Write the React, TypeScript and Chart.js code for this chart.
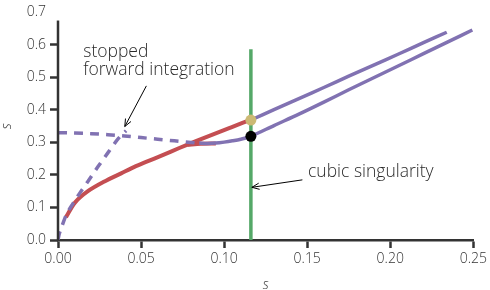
import React, { useEffect, useRef } from "react";
import { Chart, registerables } from "chart.js";
Chart.register(...registerables);

const FONT = "'Open Sans'";

// x-axis / y-axis ticks
const xTicks = [0, 0.05, 0.1, 0.15, 0.2, 0.25];
const yTicks = [0, 0.1, 0.2, 0.3, 0.4, 0.5, 0.6, 0.7];

// red solid curve (lower-left branch up to the singularity)
const redX = [0.0048, 0.0102, 0.018, 0.028, 0.038, 0.046, 0.053, 0.063, 0.073, 0.083, 0.093, 0.103, 0.113, 0.1161];
const redY = [0.07, 0.115, 0.15, 0.18, 0.205, 0.225, 0.24, 0.261, 0.283, 0.304, 0.324, 0.344, 0.364, 0.369];

// short red piece under the lower purple branch
const red2X = [0.078, 0.086, 0.095];
const red2Y = [0.293, 0.296, 0.297];

// purple dashed, nearly horizontal from s=0.33
const pd1X = [0, 0.01, 0.02, 0.03, 0.04, 0.05, 0.06, 0.07, 0.08, 0.085];
const pd1Y = [0.33, 0.329, 0.327, 0.324, 0.32, 0.315, 0.31, 0.305, 0.3, 0.298];

// purple dashed from origin (stopped forward integration)
const pd2X = [0, 0.0008, 0.0022, 0.0052, 0.009, 0.0132, 0.018, 0.024, 0.03, 0.036, 0.041];
const pd2Y = [0, 0.02, 0.04, 0.08, 0.112, 0.145, 0.18, 0.225, 0.268, 0.31, 0.336];

// purple solid lower branch (through black point)
const ps1X = [0.085, 0.09, 0.095, 0.1, 0.105, 0.11, 0.1161, 0.13, 0.145, 0.16, 0.175, 0.19, 0.205, 0.22, 0.235, 0.2494];
const ps1Y = [0.298, 0.297, 0.298, 0.301, 0.305, 0.31, 0.319, 0.352, 0.387, 0.424, 0.462, 0.499, 0.536, 0.573, 0.61, 0.646];

// purple solid upper branch (from gold point)
const ps2X = [0.1161, 0.13, 0.145, 0.16, 0.175, 0.19, 0.205, 0.22, 0.234];
const ps2Y = [0.369, 0.401, 0.435, 0.469, 0.504, 0.538, 0.572, 0.607, 0.639];

// green vertical line at the cubic singularity
const greenX = [0.1161, 0.1161];
const greenY = [0, 0.587];

// marked points
const goldX = [0.1161];
const goldY = [0.369];
const blackX = [0.1161];
const blackY = [0.319];

const ySpineTop = 0.675;

const annotStopped = { lines: ["stopped", "forward integration"], x: 0.0152, y: [0.562, 0.509] };
const arrowStopped = { from: [0.0532, 0.474], to: [0.0402, 0.349] };
const annotCubic = { lines: ["cubic singularity"], x: 0.1505, y: [0.1946] };
const arrowCubic = { from: [0.1471, 0.185], to: [0.1167, 0.162] };

const pts = (xs: number[], ys: number[]) => xs.map((x, i) => ({ x, y: ys[i] }));

const RED = "#C44E52";
const PURPLE = "#8172B2";
const GREEN = "#55A868";
const GOLD = "#CCB974";
const AXIS = "#333333";

const annotPlugin = {
  id: "annot",
  afterDatasetsDraw(chart: any) {
    const { ctx } = chart;
    const sx = chart.scales.x;
    const sy = chart.scales.y;
    ctx.save();
    // y spine
    ctx.strokeStyle = AXIS;
    ctx.lineWidth = 2.5;
    ctx.beginPath();
    const lx = chart.chartArea.left;
    ctx.moveTo(lx, sy.getPixelForValue(0) + 1.25);
    ctx.lineTo(lx, sy.getPixelForValue(ySpineTop));
    ctx.stroke();

    ctx.font = `300 17.5px ${FONT}`;
    ctx.fillStyle = "#2a2a2a";
    ctx.textAlign = "left";
    ctx.textBaseline = "alphabetic";
    for (const a of [annotStopped, annotCubic]) {
      a.lines.forEach((t, i) => {
        ctx.fillText(t, sx.getPixelForValue(a.x), sy.getPixelForValue(a.y[i]));
      });
    }
    ctx.strokeStyle = "#000";
    ctx.lineWidth = 1;
    for (const ar of [arrowStopped, arrowCubic]) {
      const x0 = sx.getPixelForValue(ar.from[0]);
      const y0 = sy.getPixelForValue(ar.from[1]);
      const x1 = sx.getPixelForValue(ar.to[0]);
      const y1 = sy.getPixelForValue(ar.to[1]);
      ctx.beginPath();
      ctx.moveTo(x0, y0);
      ctx.lineTo(x1, y1);
      const ang = Math.atan2(y1 - y0, x1 - x0);
      const hl = 8;
      const spread = 0.4;
      ctx.moveTo(x1 - hl * Math.cos(ang - spread), y1 - hl * Math.sin(ang - spread));
      ctx.lineTo(x1, y1);
      ctx.lineTo(x1 - hl * Math.cos(ang + spread), y1 - hl * Math.sin(ang + spread));
      ctx.stroke();
    }
    ctx.restore();
  },
};

export default function App() {
  const ref = useRef<HTMLCanvasElement>(null);
  useEffect(() => {
    document.body.style.margin = "0";
    const line = (data: any, color: string, width: number, order: number, dash: number[] = []) => ({
      data,
      showLine: true,
      borderColor: color,
      backgroundColor: color,
      borderWidth: width,
      borderDash: dash,
      pointRadius: 0,
      tension: 0.3,
      order,
      borderCapStyle: "butt",
    });
    const chart = new Chart(ref.current!, {
      type: "scatter",
      data: {
        datasets: [
          line(pts(redX, redY), RED, 4, 9),
          line(pts(red2X, red2Y), RED, 4, 9),
          line(pts(pd1X, pd1Y), PURPLE, 3.5, 7, [9, 7]),
          line(pts(pd2X, pd2Y), PURPLE, 3.5, 7, [9, 7]),
          line(pts(ps1X, ps1Y), PURPLE, 3.5, 6),
          line(pts(ps2X, ps2Y), PURPLE, 3.5, 6),
          line(pts(greenX, greenY), GREEN, 3.5, 3),
          { data: pts(goldX, goldY), pointRadius: 5.5, backgroundColor: GOLD, borderColor: GOLD, borderWidth: 0, order: 1 },
          { data: pts(blackX, blackY), pointRadius: 5.5, backgroundColor: "#000", borderColor: "#000", borderWidth: 0, order: 1 },
        ] as any,
      },
      options: {
        responsive: false,
        animation: false,
        layout: { padding: { top: 0, right: 0, bottom: 0, left: 0 } },
        plugins: { legend: { display: false }, tooltip: { enabled: false } },
        scales: {
          x: {
            type: "linear",
            min: 0,
            max: 0.25,
            afterBuildTicks: (s: any) => { s.ticks = xTicks.map((v) => ({ value: v })); },
            afterFit: (s: any) => { s.height = 50; },
            ticks: { callback: (v: any) => Number(v).toFixed(2), color: AXIS, font: { family: FONT, size: 14, weight: "300" }, padding: 3, maxRotation: 0 },
            grid: { drawOnChartArea: false, drawTicks: true, tickLength: 8, tickWidth: 2.5, tickColor: AXIS },
            border: { display: true, color: AXIS, width: 2.5 },
            title: { display: true, text: "s", color: AXIS, font: { family: FONT, size: 14, style: "italic", weight: "300" }, padding: { top: 0, bottom: -3.5 } },
          },
          y: {
            type: "linear",
            min: 0,
            max: 0.7,
            afterBuildTicks: (s: any) => { s.ticks = yTicks.map((v) => ({ value: v })); },
            afterFit: (s: any) => { s.width = 58; },
            ticks: { callback: (v: any) => Number(v).toFixed(1), color: AXIS, font: { family: FONT, size: 14, weight: "300" }, padding: 4 },
            grid: {
              drawOnChartArea: false,
              drawTicks: true,
              tickLength: 8,
              tickWidth: 2.5,
              tickColor: (c: any) => (c.tick && c.tick.value > ySpineTop ? "rgba(0,0,0,0)" : AXIS),
            },
            border: { display: false },
            title: { display: true, text: "s", color: AXIS, font: { family: FONT, size: 14, style: "italic", weight: "300" }, padding: { top: -1.5, bottom: 0 } },
          },
        },
      },
      plugins: [annotPlugin],
    } as any);
    return () => chart.destroy();
  }, []);
  return (
    <div style={{ width: 490, height: 290, position: "relative" }}>
      <canvas ref={ref} width={490} height={290} style={{ display: "block" }} />
    </div>
  );
}
